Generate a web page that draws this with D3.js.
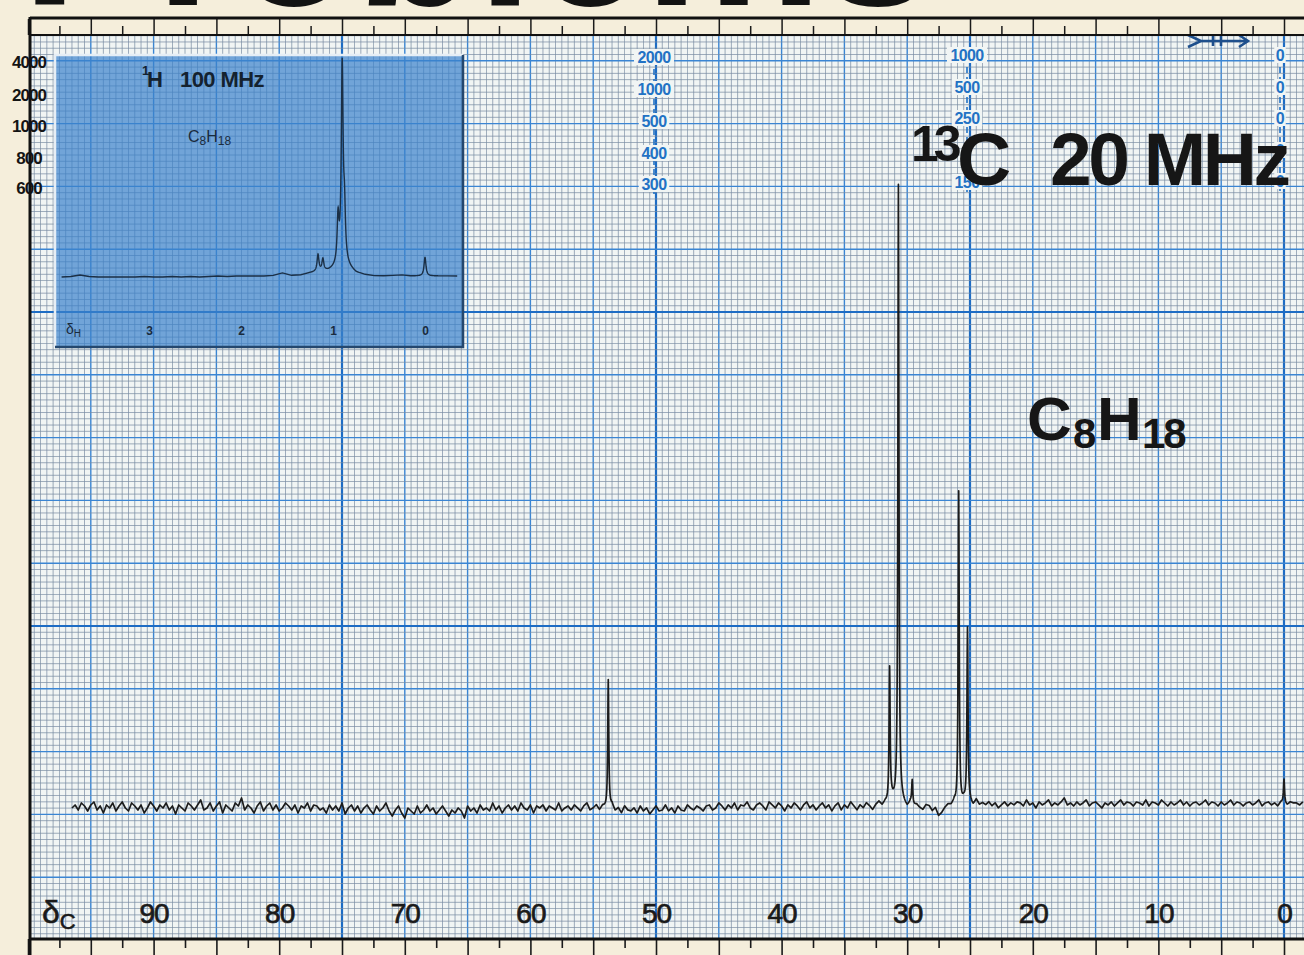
<!DOCTYPE html>
<html><head><meta charset="utf-8">
<script src="https://cdn.jsdelivr.net/npm/d3@7"></script>
<style>html,body{margin:0;padding:0;background:#f5eedb;} svg{display:block}</style>
</head><body>
<svg id="c" width="1304" height="955"></svg>
<script>
// ---------------- DATA ----------------
// 13C spectrum: peak shifts (ppm) and heights (arbitrary units, baseline = 0)
const cShifts  = [53.8, 31.4, 30.7, 29.6, 25.9, 25.2, 0.0];
const cHeights = [130, 134, 620, 24, 318, 176, 24];
// 13C axis tick labels
const cAxisTicks = [90, 80, 70, 60, 50, 40, 30, 20, 10, 0];
// baseline noise of the 13C trace, read every 0.25 ppm from 96.5 ppm down to -1.5 ppm
const cNoiseStart = 96.5, cNoiseStep = 0.25;
const cNoise = [
  0,3,-2,5,2,-3,3,6,-2,2, -5,3,0,5,-3,2,6,0,-3,5, 2,-2,3,-5,0,6,2,-3,3,0, 5,-2,2,-6,3,0,-3,5,2,-2,
  3,8,-2,0,5,-3,2,6,-5,3, 0,-3,5,2,10,-2,3,0,-5,2, 6,-3,2,5,-2,3,-3,0,5,2, -2,3,-5,2,0,5,-3,3,2,-2,
  0,-5,3,-2,2,-3,5,-6,0,3, -3,2,-5,0,3,-2,-6,2,-3,0, 5,-3,-8,-2,2,-5,-10,0,-3,-6, 2,-5,-2,3,-3,0,-6,-2,2,-3,
  -8,-2,-5,0,-3,-10,2,-3,0,-5, 3,-2,0,-3,5,-2,2,-5,0,3, -2,2,-3,5,0,-2,3,-5,2,0, 3,-3,2,0,-2,5,-3,0,2,-2,
  3,0,-3,2,5,-2,0,3,-2,2, 0,-2,3,-3,0,-5,2,-2,-3,0, -5,2,-3,0,-6,-2,2,-3,-2,3, -3,0,-5,2,-2,-3,3,0,-2,2,
  0,-3,2,3,-2,0,5,2,-2,3, 0,5,-2,3,2,6,0,-2,3,5, 2,-2,6,3,0,5,2,-3,3,0, 5,2,-2,3,6,0,3,-2,2,5,
  0,3,-3,2,5,-2,3,0,6,2, -2,3,0,5,2,-2,3,6,2,5, 3,8,5,2,6,3,0,5,2,3, 0,-2,3,2,-3,0,-8,-5,0,3,
  2,5,-3,0,6,3,5,2,8,3, 5,3,6,2,5,0,3,6,2,5, 3,6,5,2,8,3,5,0,6,3, 5,8,2,5,3,6,10,3,5,2,
  6,3,5,8,2,5,6,3,0,5, 3,6,2,5,8,3,6,5,2,6, 5,3,8,2,6,5,3,8,5,2, 6,3,5,8,3,6,2,5,6,3,
  5,8,3,6,5,2,6,3,5,8, 3,6,5,2,5,6,3,5,8,2, 5,6,3,5,2,6,5,3,6,5, 5,3,6
];
// 1H inset spectrum: peak shifts (ppm) and heights
const hShifts  = [1.163, 1.11, 0.945, 0.90, 0.875, 0.0];
const hHeights = [17, 12, 46, 198, 46, 19];
const hAxisTicks = [3, 2, 1, 0];
// 1H baseline, read every 0.1 ppm from 3.95 down to -0.35 ppm
const hBaseStart = 3.95, hBaseStep = 0.1;
const hBase = [0,0.5,2,0.5,0,0,0,0,0,0.5, 0,0,0.5,0,0.5,0,0.5,1,0.5,1,
               1,1,1,1.5,4,1.5,2,4,5,6, 9,10,4,2,1,1,1.5,2,1,1, 1,1,1,1];
// sweep-width scale labels printed on the chart paper
const sweepLeft = ["4000", "2000", "1000", "800", "600"];
const sweep50   = ["2000", "1000", "500", "400", "300"];
const sweep25   = ["1000", "500", "250", "150"];
const sweep0    = ["0", "0", "0", "0", "0"];

// ---------------- LAYOUT ----------------
const W = 1304, H = 955;
const FONT = "'Liberation Sans', Arial, Helvetica, sans-serif";
const svg = d3.select("#c");
const xC = d3.scaleLinear().domain([100, 0]).range([28, 1284]);      // 13C ppm
const yMM = d3.scaleLinear().domain([0, 150]).range([940, -2]);     // chart paper mm
const yC = d3.scaleLinear().domain([0, 620]).range([808, 188]);      // 13C intensity
const xH = d3.scaleLinear().domain([3, 0]).range([149, 425]);        // 1H ppm
const yH = d3.scaleLinear().domain([0, 215]).range([277, 62]);       // 1H intensity

const gridTop = 36, gridBot = 939, gridLeft = 30, gridRight = W;

svg.append("rect").attr("width", W).attr("height", H).attr("fill", "#f5eedb");
svg.append("rect").attr("x", gridLeft).attr("y", gridTop).attr("width", gridRight - gridLeft)
  .attr("height", gridBot - gridTop).attr("fill", "#f1f5f4");

svg.append("clipPath").attr("id", "gclip").append("rect")
  .attr("x", gridLeft).attr("y", gridTop).attr("width", gridRight - gridLeft).attr("height", gridBot - gridTop);
const grid = svg.append("g").attr("clip-path", "url(#gclip)");

const isMul = (d, m) => Math.abs(d / m - Math.round(d / m)) < 1e-6;
// vertical grid lines (every 0.5 ppm = 1 mm)
const vLines = d3.range(-4, 201).map(k => k * 0.5);
grid.selectAll("line.v").data(vLines).join("line")
  .attr("x1", d => xC(d)).attr("x2", d => xC(d)).attr("y1", gridTop).attr("y2", gridBot)
  .attr("stroke", d => isMul(d, 25) ? "#1d6cc4" : (isMul(d, 5) ? "#3a85d3" : "#7a8da3"))
  .attr("stroke-width", d => isMul(d, 25) ? 2.2 : (isMul(d, 5) ? 1.4 : 0.8))
  .attr("opacity", d => isMul(d, 5) ? 1 : 0.9);
// horizontal grid lines
const hLines = d3.range(0, 151);
grid.selectAll("line.h").data(hLines).join("line")
  .attr("x1", gridLeft).attr("x2", gridRight).attr("y1", d => yMM(d)).attr("y2", d => yMM(d))
  .attr("stroke", d => d % 50 === 0 ? "#1d6cc4" : (d % 10 === 0 ? "#3a85d3" : "#7a8da3"))
  .attr("stroke-width", d => d % 50 === 0 ? 2.2 : (d % 10 === 0 ? 1.4 : 0.8))
  .attr("opacity", d => d % 10 === 0 ? 1 : 0.9);

// ---------- sweep width columns (blue) ----------
function sweepColumn(labels, xPos, ys, color) {
  const g = svg.append("g");
  g.append("line").attr("x1", xPos).attr("x2", xPos).attr("y1", ys[0] - 8).attr("y2", ys[ys.length - 1] + 10)
    .attr("stroke", color).attr("stroke-width", 1.6).attr("stroke-dasharray", "6,4");
  labels.forEach((t, i) => {
    const tw = t.length * 9.5 + 2;
    g.append("rect").attr("x", xPos - tw / 2).attr("y", ys[i] - 8).attr("width", tw).attr("height", 16).attr("fill", "#f1f5f4");
    g.append("text").attr("x", xPos).attr("y", ys[i] + 5.5).attr("text-anchor", "middle")
      .attr("font-family", FONT).attr("font-weight", "bold").attr("font-size", 16).attr("fill", color)
      .attr("letter-spacing", -0.6).text(t);
  });
}
sweepColumn(sweep50, 654, [57, 89, 121, 153, 184], "#2272c4");
sweepColumn(sweep25, 967, [55, 87, 118, 182], "#2272c4");
sweepColumn(sweep0, 1280, [55, 87, 118, 150, 181], "#2272c4");

// arrow symbol top right
svg.append("path")
  .attr("d", "M1188,35 L1201,41 L1188,47 M1201,41 L1248,41 M1213,36 L1213,46 M1221,36 L1221,46 M1239,35 L1248,41 L1239,47")
  .attr("fill", "none").attr("stroke", "#1e4f8c").attr("stroke-width", 2.6);

// ---------- inset (1H) ----------
const inset = svg.append("g");
inset.append("rect").attr("x", 55).attr("y", 55).attr("width", 408).attr("height", 292)
  .attr("fill", "#3a82cc").attr("fill-opacity", 0.7);
inset.append("path").attr("d", "M55,347 L55,55 L463,55").attr("fill", "none").attr("stroke", "#e6eef5").attr("stroke-width", 2.5);
inset.append("path").attr("d", "M463,55 L463,347 L55,347").attr("fill", "none").attr("stroke", "#24476e").attr("stroke-width", 2.5);

inset.append("text").attr("x", 142).attr("y", 75).attr("font-family", FONT).attr("font-weight", "bold")
  .attr("font-size", 13).attr("fill", "#14222f").text("1");
inset.append("text").attr("x", 147).attr("y", 87).attr("font-family", FONT).attr("font-weight", "bold")
  .attr("font-size", 22).attr("fill", "#14222f").text("H");
inset.append("text").attr("x", 180).attr("y", 87).attr("font-family", FONT).attr("font-weight", "bold")
  .attr("font-size", 22).attr("fill", "#14222f").attr("letter-spacing", -0.6).text("100 MHz");
const ins = inset.append("text").attr("x", 188).attr("y", 142).attr("font-family", FONT)
  .attr("font-size", 16).attr("fill", "#1a2b3d");
ins.append("tspan").text("C");
ins.append("tspan").attr("font-size", 12).attr("dy", 3).text("8");
ins.append("tspan").attr("dy", -3).text("H");
ins.append("tspan").attr("font-size", 12).attr("dy", 3).text("18");

inset.append("g").attr("transform", "translate(0,335)")
  .call(d3.axisTop(xH).tickValues(hAxisTicks).tickSize(0).tickPadding(0).tickFormat(d3.format("d")))
  .call(g => g.select(".domain").remove())
  .call(g => g.selectAll("text").attr("font-family", FONT).attr("font-weight", "bold").attr("font-size", 12).attr("fill", "#1a2b3d"));
const dH = inset.append("text").attr("x", 66).attr("y", 334).attr("font-family", FONT)
  .attr("font-size", 14).attr("fill", "#1a2b3d");
dH.append("tspan").text("δ");
dH.append("tspan").attr("font-size", 10).attr("dy", 3).text("H");

function interp(arr, start, step, p) {
  const t = (start - p) / step;
  const i = Math.max(0, Math.min(arr.length - 2, Math.floor(t)));
  const f = Math.max(0, Math.min(1, t - i));
  return arr[i] * (1 - f) + arr[i + 1] * f;
}
function buildSpectrum(baseArr, start, step, end, shifts, heights, hw, fine, span) {
  let ps = baseArr.map((v, i) => start - i * step);
  shifts.forEach(s => { for (let k = -span; k <= span; k++) ps.push(s + k * fine); });
  ps = ps.filter(p => p <= start + 1e-9 && p >= end - 1e-9).sort((a, b) => b - a);
  return ps.map(p => [p, interp(baseArr, start, step, p) +
    d3.sum(shifts, (s, k) => heights[k] / (1 + ((p - s) / hw) ** 2))]);
}
const hSpec = buildSpectrum(hBase, hBaseStart, hBaseStep, hBaseStart - (hBase.length - 1) * hBaseStep,
  hShifts, hHeights, 0.012, 0.004, 40);
inset.append("path").datum(hSpec)
  .attr("d", d3.line().x(d => xH(d[0])).y(d => yH(d[1])))
  .attr("fill", "none").attr("stroke", "#1b2f45").attr("stroke-width", 1.4);

// ---------- main 13C spectrum ----------
const cSpec = buildSpectrum(cNoise, cNoiseStart, cNoiseStep, cNoiseStart - (cNoise.length - 1) * cNoiseStep,
  cShifts, cHeights, 0.05, 0.02, 50);
svg.append("path").datum(cSpec)
  .attr("d", d3.line().x(d => xC(d[0])).y(d => yC(d[1])))
  .attr("fill", "none").attr("stroke", "#1c1c1c").attr("stroke-width", 1.7).attr("stroke-linejoin", "round");

// ---------- big titles ----------
svg.append("text").attr("x", 911).attr("y", 161).attr("font-family", FONT).attr("font-weight", "bold")
  .attr("font-size", 50).attr("letter-spacing", -5).attr("fill", "#161616").text("13");
svg.append("text").attr("x", 957).attr("y", 185).attr("font-family", FONT).attr("font-weight", "bold")
  .attr("font-size", 75).attr("fill", "#161616").text("C");
svg.append("text").attr("x", 1050).attr("y", 185).attr("font-family", FONT).attr("font-weight", "bold")
  .attr("font-size", 75).attr("letter-spacing", -3.5).attr("fill", "#161616").text("20 MHz");
const f1 = svg.append("g").attr("font-family", FONT).attr("font-weight", "bold").attr("fill", "#161616");
f1.append("text").attr("x", 1027).attr("y", 440).attr("font-size", 62).text("C");
f1.append("text").attr("x", 1073).attr("y", 448).attr("font-size", 42).attr("letter-spacing", -1).text("8");
f1.append("text").attr("x", 1097).attr("y", 440).attr("font-size", 62).text("H");
f1.append("text").attr("x", 1142).attr("y", 448).attr("font-size", 42).attr("letter-spacing", -2).text("18");

// ---------- x axis labels ----------
svg.append("g").attr("transform", "translate(0,923)")
  .call(d3.axisTop(xC).tickValues(cAxisTicks).tickSize(0).tickPadding(0).tickFormat(d3.format("d")))
  .call(g => g.select(".domain").remove())
  .call(g => g.selectAll("text").attr("font-family", FONT).attr("font-size", 28).attr("fill", "#1a1a1a")
    .attr("stroke", "#1a1a1a").attr("stroke-width", 0.7).attr("letter-spacing", -1));
const dC = svg.append("text").attr("x", 42).attr("y", 923).attr("font-family", FONT).attr("fill", "#1a1a1a")
  .attr("stroke", "#1a1a1a").attr("stroke-width", 0.6);
dC.append("tspan").attr("font-size", 32).text("δ");
dC.append("tspan").attr("font-size", 22).attr("dy", 6).text("C");

// ---------- rulers & frame ----------
const majorTicks = d3.range(0, 100.01, 5);
const minorTicks = d3.range(2.5, 100, 5);
svg.append("rect").attr("x", gridLeft).attr("y", 18).attr("width", W - gridLeft).attr("height", 17).attr("fill", "#f5eedb");
svg.append("g").attr("transform", "translate(0,35)")
  .call(d3.axisTop(xC).tickValues(majorTicks).tickSize(16).tickFormat(""))
  .call(g => g.select(".domain").remove())
  .call(g => g.selectAll("line").attr("stroke", "#1a1a1a").attr("stroke-width", 1.5));
svg.append("g").attr("transform", "translate(0,35)")
  .call(d3.axisTop(xC).tickValues(minorTicks).tickSize(9).tickFormat(""))
  .call(g => g.select(".domain").remove())
  .call(g => g.selectAll("line").attr("stroke", "#1a1a1a").attr("stroke-width", 1.5));
svg.append("g").attr("transform", "translate(0,939)")
  .call(d3.axisBottom(xC).tickValues(majorTicks).tickSize(16).tickFormat(""))
  .call(g => g.select(".domain").remove())
  .call(g => g.selectAll("line").attr("stroke", "#1a1a1a").attr("stroke-width", 1.6));
svg.append("g").attr("transform", "translate(0,939)")
  .call(d3.axisBottom(xC).tickValues(minorTicks).tickSize(9).tickFormat(""))
  .call(g => g.select(".domain").remove())
  .call(g => g.selectAll("line").attr("stroke", "#1a1a1a").attr("stroke-width", 1.6));
svg.append("line").attr("x1", gridLeft).attr("x2", W).attr("y1", 18).attr("y2", 18).attr("stroke", "#111").attr("stroke-width", 3);
svg.append("line").attr("x1", gridLeft).attr("x2", W).attr("y1", 35).attr("y2", 35).attr("stroke", "#111").attr("stroke-width", 2.2);
svg.append("line").attr("x1", gridLeft).attr("x2", W).attr("y1", 939).attr("y2", 939).attr("stroke", "#111").attr("stroke-width", 3);
svg.append("line").attr("x1", gridLeft).attr("x2", gridLeft).attr("y1", 17).attr("y2", 955).attr("stroke", "#111").attr("stroke-width", 3);

// left sweep labels (black)
const leftG = svg.append("g");
sweepLeft.forEach((t, i) => {
  leftG.append("text").attr("x", 29).attr("y", [62, 95, 126, 158, 188][i] + 6).attr("text-anchor", "middle")
    .attr("font-family", FONT).attr("font-weight", "bold").attr("font-size", 17).attr("letter-spacing", -1)
    .attr("fill", "#141414").text(t);
});

// heading of the page, cut off at the top edge
svg.append("text").attr("x", 22).attr("y", 5).attr("font-family", FONT).attr("font-weight", "bold")
  .attr("font-size", 200).attr("fill", "#121212").text("Problems");
</script>
</body></html>
